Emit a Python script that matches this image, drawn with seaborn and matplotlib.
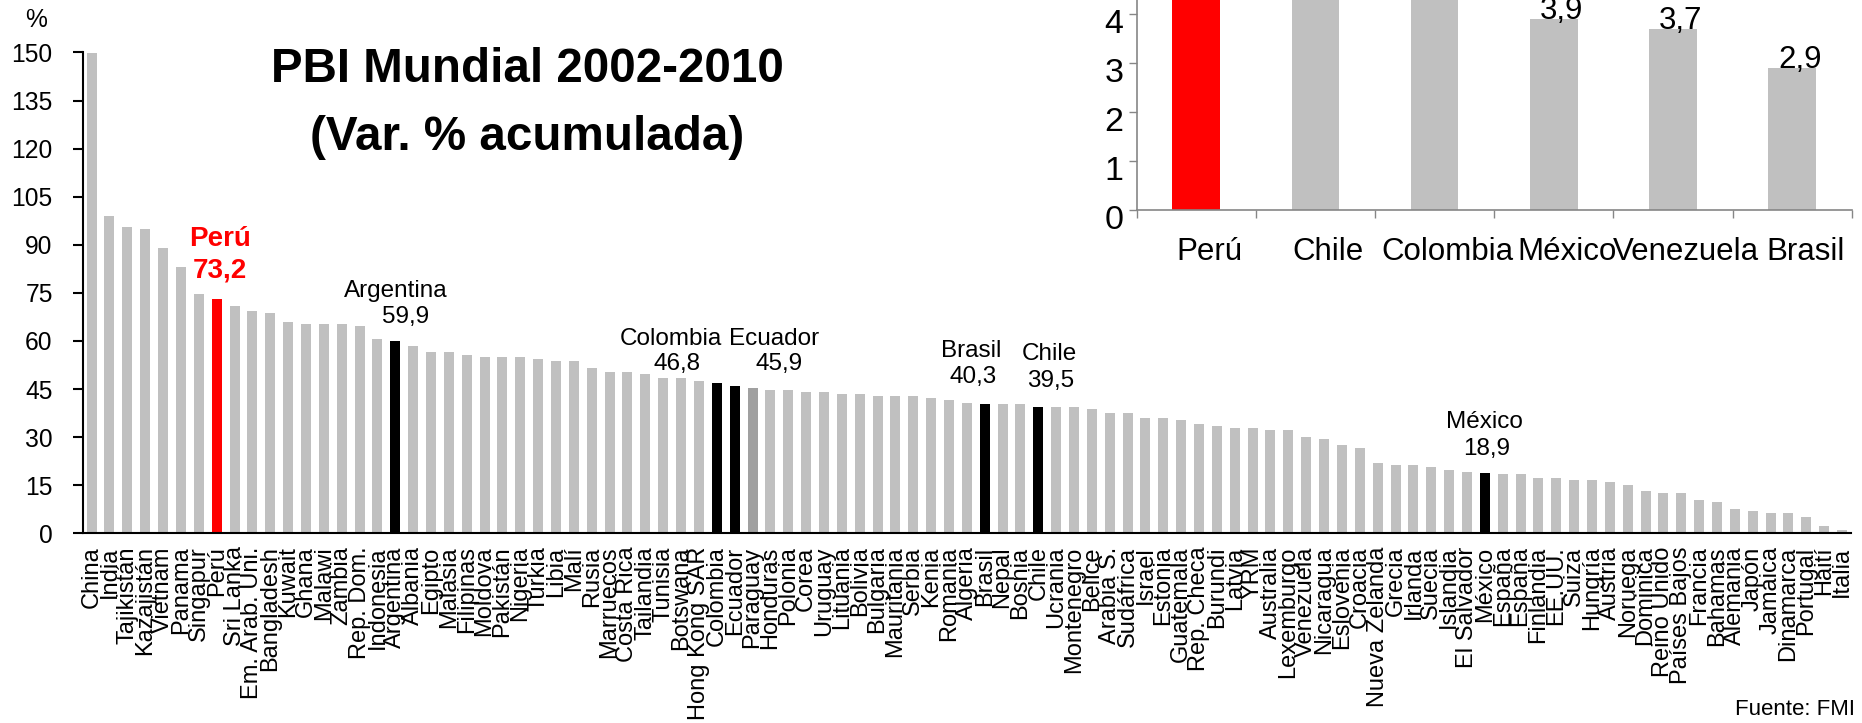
import numpy as np
import pandas as pd
import matplotlib
matplotlib.use("Agg")
import matplotlib.pyplot as plt
import seaborn as sns
from matplotlib.transforms import ScaledTranslation

# ---------------- data ----------------
countries = [
    "China", "India", "Tajikistán", "Kazajistán", "Vietnam", "Panama", "Singapur", "Perú",
    "Sri Lanka", "Em. Arab. Uni.", "Bangladesh", "Kuwait", "Ghana", "Malawi", "Zambia",
    "Rep. Dom.", "Indonesia", "Argentina", "Albania", "Egipto", "Malasia", "Filipinas",
    "Moldova", "Pakistán", "Nigeria", "Turkia", "Libia", "Malí", "Rusia", "Marruecos",
    "Costa Rica", "Tailandia", "Tunisia", "Botswana", "Hong Kong SAR", "Colombia", "Ecuador",
    "Paraguay", "Honduras", "Polonia", "Corea", "Uruguay", "Lituania", "Bolivia", "Bulgaria",
    "Mauritania", "Serbia", "Kenia", "Romania", "Algeria", "Brasil", "Nepal", "Bosnia",
    "Chile", "Ucrania", "Montenegro", "Belice", "Arabia S.", "Sudáfrica", "Israel", "Estonia",
    "Guatemala", "Rep. Checa", "Burundi", "Latvia", "YRM", "Australia", "Lexemburgo",
    "Venezuela", "Nicaragua", "Eslovenia", "Croacia", "Nueva Zelanda", "Grecia", "Irlanda",
    "Suecia", "Islandia", "El Salvador", "México", "España", "España", "Finlandia", "EE.UU.",
    "Suiza", "Hungría", "Austria", "Noruega", "Dominica", "Reino Unido", "Países Bajos",
    "Francia", "Bahamas", "Alemania", "Japón", "Jamaica", "Dinamarca", "Portugal", "Haití",
    "Italia",
]
growth = [
    150.0, 99.1, 95.7, 95.0, 88.9, 83.0, 74.7, 73.2,
    70.8, 69.2, 68.6, 65.9, 65.2, 65.2, 65.2,
    64.6, 60.5, 59.9, 58.4, 56.5, 56.5, 55.7,
    55.1, 55.0, 55.0, 54.3, 53.7, 53.7, 51.6, 50.3,
    50.3, 49.6, 48.3, 48.3, 47.6, 46.8, 45.9,
    45.3, 44.8, 44.8, 44.2, 44.2, 43.5, 43.5, 42.8,
    42.8, 42.8, 42.1, 41.5, 40.8, 40.3, 40.2, 40.2,
    39.5, 39.4, 39.4, 38.8, 37.5, 37.5, 36.1, 36.1,
    35.4, 34.0, 33.4, 32.8, 32.8, 32.1, 32.1,
    30.1, 29.4, 27.4, 26.7, 21.9, 21.3, 21.3,
    20.6, 19.9, 19.2, 18.9, 18.6, 18.6, 17.2, 17.2,
    16.5, 16.5, 15.9, 15.1, 13.2, 12.5, 12.5,
    10.4, 9.7, 7.7, 7.0, 6.3, 6.3, 5.0, 2.3,
    1.0,
]
assert len(countries) == len(growth)

highlight_red = ["Perú"]
highlight_black = ["Argentina", "Colombia", "Ecuador", "Brasil", "Chile", "México"]
highlight_dark = ["Paraguay"]

inset_countries = ["Perú", "Chile", "Colombia", "México", "Venezuela", "Brasil"]
inset_values = [6.6, 5.6, 4.7, 3.9, 3.7, 2.9]

main_yticks = list(range(0, 151, 15))
inset_yticks = [0, 1, 2, 3, 4]

title_lines = ["PBI Mundial 2002-2010", "(Var. % acumulada)"]
source_text = "Fuente: FMI"

# ---------------- style ----------------
sns.set_style("white")
plt.rcParams["font.family"] = ["Liberation Sans", "DejaVu Sans"]
for key in ["text.color", "axes.labelcolor", "xtick.color", "ytick.color"]:
    plt.rcParams[key] = "black"

GRAY = "#C0C0C0"
DARK = "#A0A0A0"
RED = "#FF0000"
BLACK = "#000000"
AXGRAY = "#868686"

W, H = 1862, 723
fig = plt.figure(figsize=(W / 100, H / 100), dpi=100)

def fx(px):
    return px / W

def fy(py):
    return (H - py) / H

# ---------------- main chart ----------------
ax = fig.add_axes([fx(82.7), fy(533.3), fx(1851) - fx(82.7), fy(52.5) - fy(533.3)])
keys = [f"c{i}" for i in range(len(countries))]
pal = {}
for k, c in zip(keys, countries):
    if c in highlight_red:
        pal[k] = RED
    elif c in highlight_black:
        pal[k] = BLACK
    elif c in highlight_dark:
        pal[k] = DARK
    else:
        pal[k] = GRAY
df = pd.DataFrame({"key": keys, "country": countries, "growth": growth})
sns.barplot(data=df, x="key", y="growth", hue="key", order=keys, hue_order=keys,
            palette=pal, legend=False, width=0.56, saturation=1, errorbar=None,
            linewidth=0, ax=ax)
ax.set_xlim(-0.5, len(countries) - 0.5)
ax.set_ylim(0, 150)
ax.set_yticks(main_yticks)
ax.set_yticklabels([str(t) for t in main_yticks])
ax.set_xticks(range(len(countries)))
ax.set_xticklabels(countries, rotation=90, fontsize=17)
ax.set_xlabel("")
ax.set_ylabel("")
ax.tick_params(axis="y", left=True, length=7.2, width=1.5, pad=14.4, labelsize=17.7,
               direction="out", color=BLACK, labelcolor=BLACK)
ax.tick_params(axis="x", bottom=False, length=0, pad=9.5, labelcolor=BLACK)
for s in ["top", "right"]:
    ax.spines[s].set_visible(False)
for s in ["left", "bottom"]:
    ax.spines[s].set_color(BLACK)
    ax.spines[s].set_linewidth(1.5)
ax.grid(False)

def fmt(v):
    return f"{v:.1f}".replace(".", ",")

# label offsets in pixels: (name dx, name dy, value dx, value dy)
label_offsets = {
    "Perú": (3, 53, 3, 21),
    "Argentina": (0, 44, 10, 18),
    "Colombia": (-46, 38, -40, 13),
    "Ecuador": (39, 41, 44, 16),
    "Brasil": (-14, 47, -12, 21),
    "Chile": (11, 46.5, 12, 19.5),
    "México": (0, 44.6, 2, 17.6),
}
for name, (ndx, ndy, vdx, vdy) in label_offsets.items():
    i = countries.index(name)
    v = growth[i]
    if name == "Perú":
        kw = dict(color=RED, fontweight="bold", fontsize=20)
    else:
        kw = dict(color=BLACK, fontsize=17.5)
    ax.annotate(name, xy=(i, v), xytext=(ndx, ndy), textcoords="offset pixels",
                ha="center", va="baseline", **kw)
    ax.annotate(fmt(v), xy=(i, v), xytext=(vdx, vdy), textcoords="offset pixels",
                ha="center", va="baseline", **kw)

# ---------------- inset chart (its top runs past the figure edge) ----------------
ax2 = fig.add_axes([fx(1136.7), fy(210), fx(1851.8) - fx(1136.7), 7 * 49 / H])
ax2.patch.set_alpha(0)
ikeys = [f"i{i}" for i in range(len(inset_countries))]
ipal = {k: (RED if c in highlight_red else GRAY) for k, c in zip(ikeys, inset_countries)}
idf = pd.DataFrame({"key": ikeys, "value": inset_values})
sns.barplot(data=idf, x="key", y="value", hue="key", order=ikeys, hue_order=ikeys,
            palette=ipal, legend=False, width=0.4, saturation=1, errorbar=None,
            linewidth=0, ax=ax2)
ax2.set_xlim(-0.5, len(inset_countries) - 0.5)
ax2.set_ylim(0, 7)
ax2.set_yticks(inset_yticks)
ax2.set_yticklabels([str(t) for t in inset_yticks])
ax2.set_xticks(range(len(inset_countries)))
ax2.set_xticklabels(inset_countries, fontsize=22.5)
ax2.set_xticks(np.arange(-0.5, len(inset_countries), 1.0), minor=True)
ax2.set_xlabel("")
ax2.set_ylabel("")
ax2.tick_params(axis="x", which="major", bottom=False, length=0, pad=19.5, labelcolor=BLACK)
ax2.tick_params(axis="x", which="minor", bottom=True, length=6, width=1.0,
                color=AXGRAY, direction="out")
ax2.tick_params(axis="y", left=True, length=5.5, width=1.0, color=AXGRAY, pad=4,
                labelsize=24.5, direction="out", labelcolor=BLACK)
for s in ["top", "right"]:
    ax2.spines[s].set_visible(False)
for s in ["left", "bottom"]:
    ax2.spines[s].set_color(AXGRAY)
    ax2.spines[s].set_linewidth(1.2)
ax2.grid(False)
yshift = ScaledTranslation(0, -7 / 100, fig.dpi_scale_trans)
for lab in ax2.get_yticklabels():
    lab.set_transform(lab.get_transform() + yshift)
xshift = ScaledTranslation(13 / 100, 0, fig.dpi_scale_trans)
for lab in ax2.get_xticklabels():
    lab.set_transform(lab.get_transform() + xshift)
visible_top = 4.29
for i, v in enumerate(inset_values):
    if v < visible_top:
        ax2.annotate(fmt(v), xy=(i, v), xytext=(8, 0), textcoords="offset pixels",
                     ha="center", va="baseline", fontsize=22.5, color=BLACK)

# ---------------- texts ----------------
fig.text(fx(527), fy(82), title_lines[0], ha="center", va="baseline",
         fontsize=34.3, fontweight="bold", color=BLACK)
fig.text(fx(527), fy(150), title_lines[1], ha="center", va="baseline",
         fontsize=34.3, fontweight="bold", color=BLACK)
fig.text(fx(36), fy(20), "%", ha="center", va="center", fontsize=17.7, color=BLACK)
fig.text(fx(1855), fy(715), source_text, ha="right", va="baseline", fontsize=16, color=BLACK)

fig.savefig("out.png", dpi=100)
